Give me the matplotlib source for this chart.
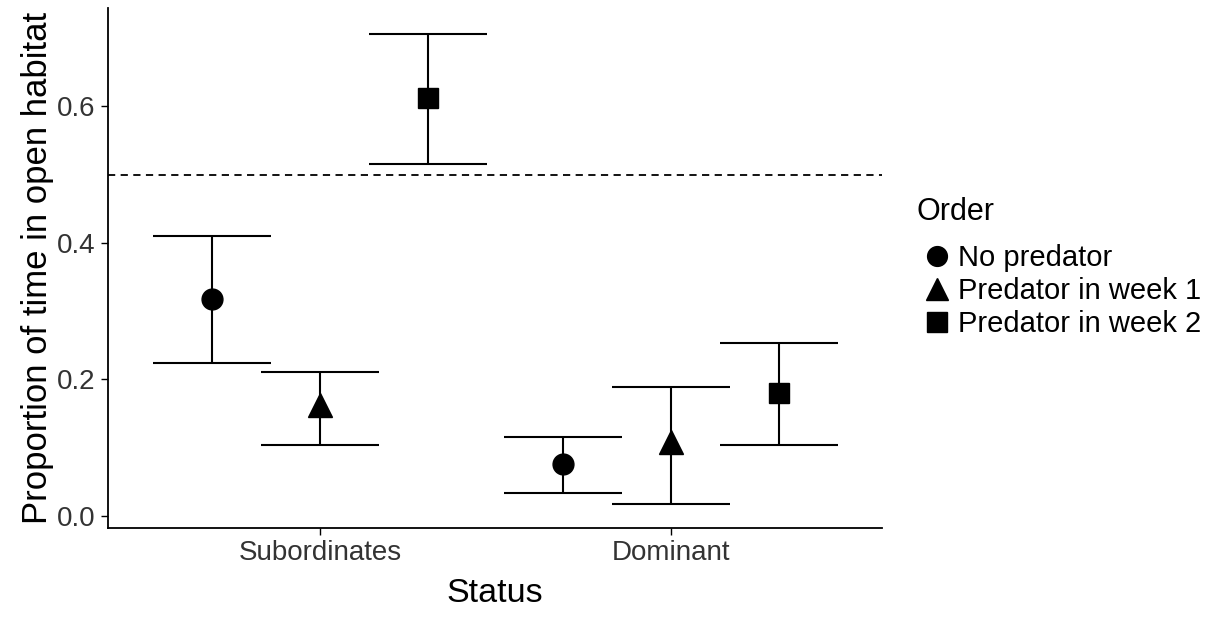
import numpy as np
import matplotlib.pyplot as plt
from matplotlib.lines import Line2D

plt.rcParams['font.family'] = ['Liberation Sans', 'DejaVu Sans']

# Datos
status = ['Subordinates', 'Dominant']
orders = ['No predator', 'Predator in week 1', 'Predator in week 2']
means = {
    'No predator':        [0.318, 0.076],
    'Predator in week 1': [0.163, 0.108],
    'Predator in week 2': [0.612, 0.180],
}
upper = {
    'No predator':        [0.410, 0.116],
    'Predator in week 1': [0.211, 0.189],
    'Predator in week 2': [0.706, 0.253],
}
lower = {
    'No predator':        [0.224, 0.034],
    'Predator in week 1': [0.104, 0.018],
    'Predator in week 2': [0.515, 0.104],
}
markers = {'No predator': 'o', 'Predator in week 1': '^', 'Predator in week 2': 's'}
msizes = {'No predator': 15, 'Predator in week 1': 17, 'Predator in week 2': 15}

fig = plt.figure(figsize=(12.13, 6.18), dpi=100)
ax = fig.add_axes([108 / 1213, 1 - 528 / 618, (882 - 108) / 1213, (528 - 8) / 618])

x = np.arange(1, len(status) + 1)
dodge = 0.308
cap = 0.168

ax.axhline(0.5, color='black', linestyle=(0, (4, 3)), lw=1.3, zorder=1)

for i, name in enumerate(orders):
    xs = x + (i - 1) * dodge
    m = np.array(means[name])
    lo = np.array(lower[name])
    hi = np.array(upper[name])
    ax.vlines(xs, lo, hi, color='black', lw=1.5, zorder=2)
    ax.hlines(lo, xs - cap, xs + cap, color='black', lw=1.5, zorder=2)
    ax.hlines(hi, xs - cap, xs + cap, color='black', lw=1.5, zorder=2)
    ax.plot(xs, m, linestyle='none', marker=markers[name], markersize=msizes[name],
            color='black', zorder=3)

ax.set_xlim(0.396, 2.60)
ax.set_ylim(-0.0176, 0.744)
ax.set_xticks(x)
ax.set_xticklabels(status)
ax.set_yticks([0.0, 0.2, 0.4, 0.6])
ax.set_yticklabels(['0.0', '0.2', '0.4', '0.6'])
ax.tick_params(axis='both', labelsize=20, labelcolor='#333333', color='black',
               length=5, width=1, pad=4)
for s in ['top', 'right']:
    ax.spines[s].set_visible(False)
for s in ['left', 'bottom']:
    ax.spines[s].set_linewidth(1.3)

ax.set_xlabel('Status', fontsize=24.5, labelpad=8)
ax.set_ylabel('Proportion of time in open habitat', fontsize=25, labelpad=2)

handles = [Line2D([], [], linestyle='none', marker=markers[n], markersize=msizes[n] * 0.95,
                  color='black') for n in orders]
leg = ax.legend(handles, orders, title='Order', loc='upper left',
                bbox_to_anchor=(1.045, 0.636), frameon=False, fontsize=21,
                title_fontsize=22, handlelength=1.4, handletextpad=0.0,
                labelspacing=0.17, borderaxespad=0, borderpad=0)
leg._legend_box.align = 'left'
leg._legend_box.sep = 12

fig.savefig('out.png', dpi=100)
